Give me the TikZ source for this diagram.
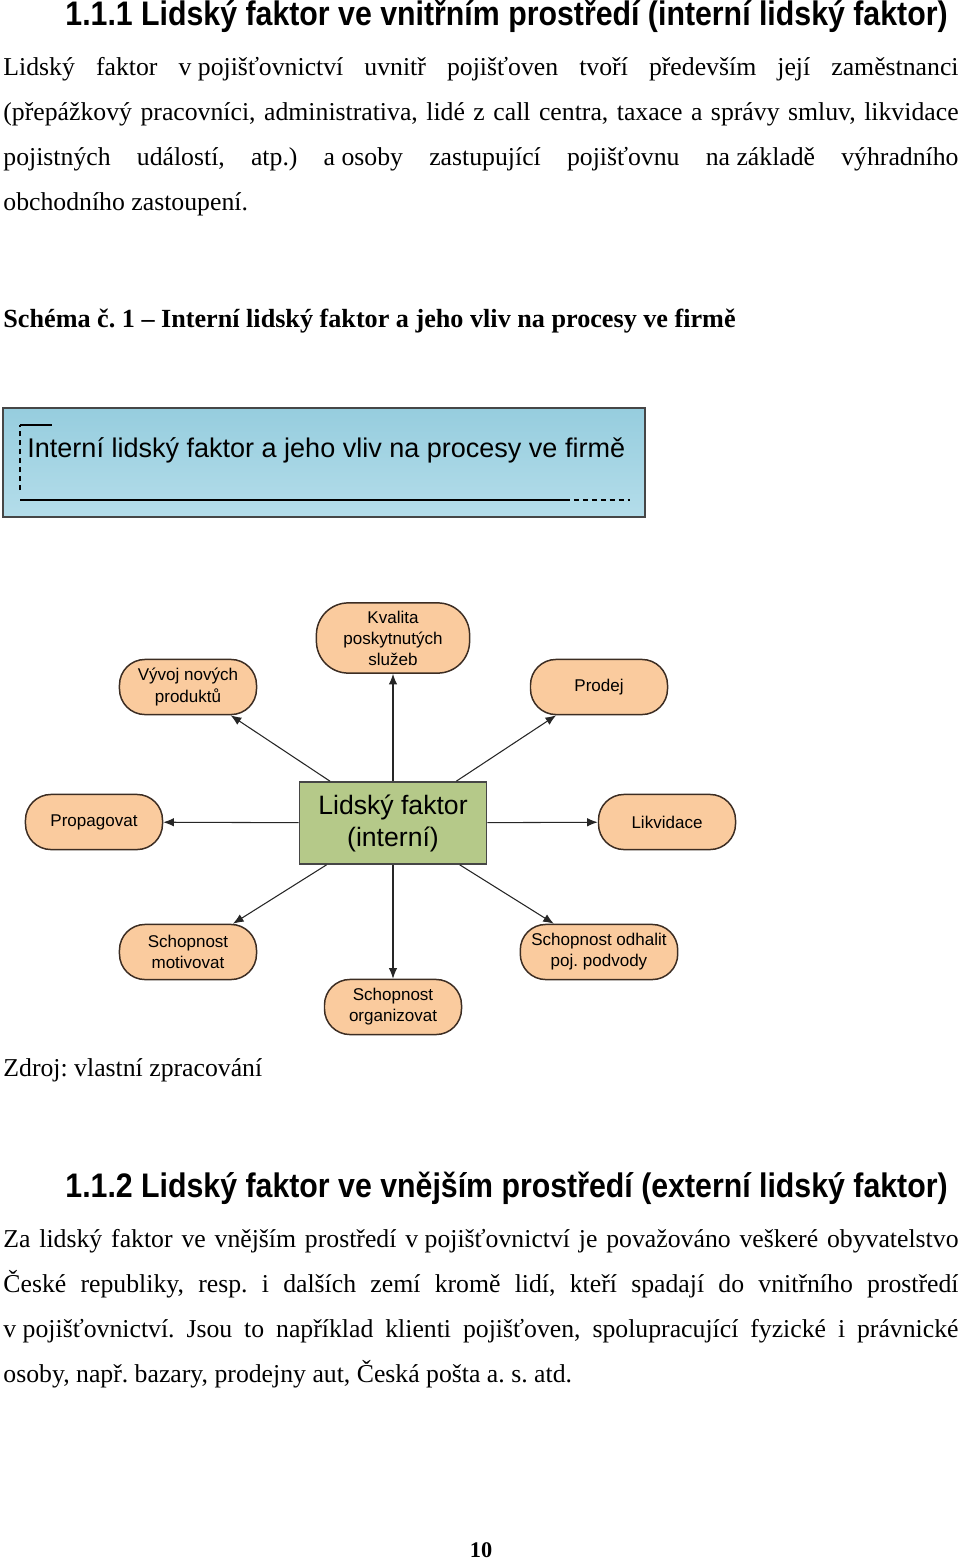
\documentclass[tikz,border=0pt]{standalone}
\usepackage{fontspec}
\setmainfont{Liberation Serif}
\newfontfamily\arialfont{Liberation Sans}
\newfontfamily\headfont{Liberation Sans}[FakeStretch=0.89]
\usetikzlibrary{arrows.meta}

\definecolor{peach}{RGB}{250,203,158}
\definecolor{peachline}{RGB}{60,45,35}
\definecolor{olive}{RGB}{181,201,137}
\definecolor{boxline}{RGB}{70,70,70}
\definecolor{skytop}{RGB}{150,205,222}
\definecolor{skybot}{RGB}{180,221,234}

% one justified line of the page
\newcommand{\fullline}[1]{\makebox[448.9pt][s]{#1}}
\newcommand{\fsp}{\hspace{0.25em}}
\frenchspacing

\begin{document}
\begin{tikzpicture}[x=0.47pt,y=0.47pt,yscale=-1,
    txt/.style={anchor=base west,inner sep=0pt,font=\fontsize{12.1}{14}\selectfont},
    head/.style={anchor=base west,inner sep=0pt,font=\headfont\bfseries\fontsize{16}{18}\selectfont},
    bubble/.style={draw=peachline,fill=peach,line width=0.7pt,rounded corners=12pt,
      minimum width=64.4pt,minimum height=25.9pt,inner sep=1pt,align=center,
      font=\arialfont\fontsize{8}{9.9}\selectfont},
    arr/.style={-{Latex[length=5pt,width=4pt]},line width=0.5pt,draw=black!85},
    dashline/.style={line width=0.6pt,dash pattern=on 2.4pt off 1.8pt}]
  \useasboundingbox (0,0) rectangle (960,1559);

  % text above the schema
  \node[head] (h1) at (65,26) {1.1.1 Lidský faktor ve vnitřním prostředí (interní lidský faktor)};
  \node[txt] (p1a) at (3,76) {\fullline{Lidský faktor v\fsp pojišťovnictví uvnitř pojišťoven tvoří především její zaměstnanci}};
  \node[txt] (p1b) at (3,121) {\fullline{(přepážkový pracovníci, administrativa, lidé z call centra, taxace a správy smluv, likvidace}};
  \node[txt] (p1c) at (3,166) {\fullline{pojistných událostí, atp.) a\fsp osoby zastupující pojišťovnu na\fsp základě výhradního}};
  \node[txt] (p1d) at (3,211) {obchodního zastoupení.};
  \node[txt,font=\bfseries\fontsize{12.3}{14}\selectfont] (cap) at (3,328) {Schéma č. 1 – Interní lidský faktor a jeho vliv na procesy ve firmě};

  % title box
  \shade[draw=boxline,line width=1pt,top color=skytop,bottom color=skybot] (3,408) rectangle (645,517);
  \draw[dashline] (20,490) -- (20,425);
  \draw[line width=0.6pt] (20,425) -- (52,425);
  \draw[line width=0.6pt] (20,500) -- (565,500);
  \draw[dashline] (565,500) -- (630,500);
  \node[anchor=base west,inner sep=0pt,font=\arialfont\fontsize{12.7}{15}\selectfont] (boxtitle) at (27,457)
    {Interní lidský faktor a jeho vliv na procesy ve firmě};

  % schema
  \node[draw=boxline,fill=olive,line width=0.8pt,minimum width=88pt,minimum height=38.5pt,
    align=center,font=\arialfont\fontsize{12.5}{15}\selectfont] (lf) at (393,823) {Lidský faktor\\(interní)};
  \node[bubble,minimum width=72pt,minimum height=33pt,rounded corners=15pt] (kval) at (393,638) {Kvalita\\poskytnutých\\služeb};
  \node[bubble] (vyvoj) at (188,687) {Vývoj nových\\produktů};
  \node[bubble] (prodej) at (599,687) {Prodej};
  \node[bubble] (prop) at (94,822) {Propagovat};
  \node[bubble] (likv) at (667,822) {Likvidace};
  \node[bubble] (motiv) at (188,952) {Schopnost\\motivovat};
  \node[bubble,minimum width=74pt] (odhal) at (599,952) {Schopnost odhalit\\poj. podvody};
  \node[bubble] (organ) at (393,1007) {Schopnost\\organizovat};

  \foreach \t in {kval,vyvoj,prodej,prop,likv,motiv,odhal,organ}
    \draw[arr] (lf) -- (\t);

  \node[txt] (zdroj) at (3,1076) {Zdroj: vlastní zpracování};

  % text below the schema
  \node[head] (h2) at (65,1197) {1.1.2 Lidský faktor ve vnějším prostředí (externí lidský faktor)};
  \node[txt] (p2a) at (3,1247) {\fullline{Za lidský faktor ve vnějším prostředí v\fsp pojišťovnictví je považováno veškeré obyvatelstvo}};
  \node[txt] (p2b) at (3,1292) {\fullline{České republiky, resp. i dalších zemí kromě lidí, kteří spadají do vnitřního prostředí}};
  \node[txt] (p2c) at (3,1337) {\fullline{v\fsp pojišťovnictví. Jsou to například klienti pojišťoven, spolupracující fyzické i právnické}};
  \node[txt] (p2d) at (3,1382) {osoby, např. bazary, prodejny aut, Česká pošta a. s. atd.};

  \node[anchor=base,inner sep=0pt,font=\bfseries\fontsize{10.5}{12}\selectfont] (pageno) at (481,1557) {10};
\end{tikzpicture}
\end{document}
